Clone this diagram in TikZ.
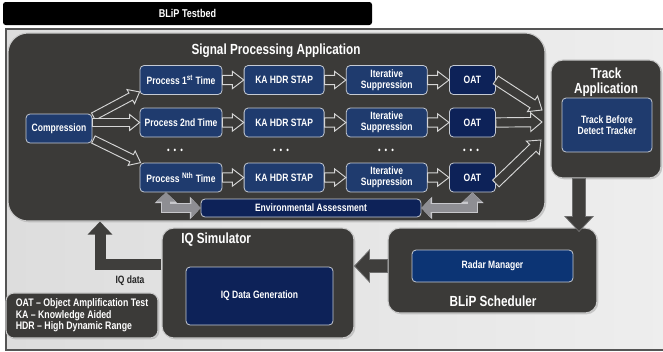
\documentclass[tikz,border=0pt]{standalone}
\usepackage{fontspec}
\setmainfont{Liberation Sans}[FakeStretch=0.8]
\usetikzlibrary{positioning, calc, arrows.meta, shadows}
\definecolor{PanelDark}{HTML}{3B3A38}
\definecolor{PanelEdge}{HTML}{C9C9C9}
\definecolor{BoxBlue}{HTML}{1F3B6E}
\definecolor{BoxNavy}{HTML}{0D2258}
\definecolor{RadarBlue}{HTML}{0C3474}
\definecolor{BoxEdge}{HTML}{C5CAD3}
\definecolor{ArrowEdge}{HTML}{D6D6D6}
\definecolor{BigGray}{HTML}{3F3E3C}
\definecolor{BigEdge}{HTML}{6E6E6E}
\definecolor{EnvGray}{HTML}{8E8E93}
\definecolor{EnvEdge}{HTML}{C8C8CC}
\definecolor{FrameL}{HTML}{DDDDDD}
\definecolor{FrameR}{HTML}{EEEEEE}
\definecolor{FrameEdge}{HTML}{555555}

% block arrow: style, from, to, half shaft, half head, head length
\newcommand{\blockarrow}[6]{%
  \coordinate (ba-s) at (#2);
  \coordinate (ba-e) at (#3);
  \coordinate (ba-h) at ($(ba-e)!#6!(ba-s)$);
  \draw[#1] ($(ba-s)!#4!90:(ba-e)$) -- ($(ba-h)!#4!90:(ba-e)$) -- ($(ba-h)!#5!90:(ba-e)$) -- (ba-e)
    -- ($(ba-h)!#5!-90:(ba-e)$) -- ($(ba-h)!#4!-90:(ba-e)$) -- ($(ba-s)!#4!-90:(ba-e)$) -- cycle;
}

\begin{document}
\begin{tikzpicture}[
    x=0.75pt, y=-0.75pt,
    font=\fontsize{8}{8.5}\selectfont\bfseries,
    panel/.style={rectangle, draw=PanelEdge, fill=PanelDark, rounded corners=9pt, line width=0.8pt, drop shadow={shadow xshift=1pt, shadow yshift=-1pt, opacity=0.35}},
    paneltitle/.style={text=white, font=\fontsize{11}{11}\selectfont\bfseries, align=center, inner sep=0pt},
    procbox/.style={rectangle, draw=BoxEdge, fill=BoxBlue, rounded corners=3pt, line width=0.6pt, text=white, align=center, minimum height=21.75pt, inner sep=1pt},
    oatbox/.style={procbox, fill=BoxNavy},
    hollow/.style={draw=ArrowEdge, fill=PanelDark, line width=0.7pt, line join=miter},
    bigarrow/.style={draw=BigEdge, fill=BigGray, line width=0.6pt, line join=miter},
    iqline/.style={draw=BigGray, line width=8.25pt, line join=miter, -{Triangle[width=18pt, length=9.75pt]}},
    envarrow/.style={draw=EnvGray, line width=6.5pt, line join=miter, {Triangle[width=14pt, length=7pt]}-{Triangle[width=14pt, length=7pt]},
      preaction={draw=EnvEdge, line width=8pt, {Triangle[width=16.5pt, length=8pt]}-{Triangle[width=16.5pt, length=8pt]}}}
  ]
    \useasboundingbox (0,0) rectangle (663,351);

    % Frame and title bar
    \draw[FrameEdge, line width=1pt, left color=FrameL, right color=FrameR] (6,29) rectangle (672,350);
    \node (testbed) [fill=black, rounded corners=2pt, minimum width=276.75pt, minimum height=17.25pt, text=white, font=\fontsize{8.5}{8.5}\selectfont\bfseries] at (187.5,13.5) {BLiP Testbed};

    % Panels
    \node (spa) [panel, rounded corners=15pt, minimum width=402.75pt, minimum height=141pt] at (276.5,127) {};
    \node (spatitle) [paneltitle] at (276,51) {Signal Processing Application};
    \node (trackapp) [panel, minimum width=82.5pt, minimum height=88.5pt] at (606,119) {};
    \node (tracktitle) [paneltitle] at (606,82) {Track\\Application};
    \node (iqsim) [panel, minimum width=144pt, minimum height=82.5pt] at (258,283) {};
    \node (iqtitle) [paneltitle, anchor=west] at (181,240) {IQ Simulator};
    \node (sched) [panel, minimum width=156.75pt, minimum height=63.75pt] at (492.5,270.5) {};
    \node (schedtitle) [paneltitle] at (493,301) {BLiP Scheduler};
    \node (legend) [panel, rounded corners=6pt, minimum width=114pt, minimum height=33.75pt, text=white, align=left, font=\fontsize{8.2}{8.6}\selectfont\bfseries] at (82,315.5) {OAT -- Object Amplification Test\\KA -- Knowledge Aided\\HDR -- High Dynamic Range};

    % Processing chain
    \node (comp) [procbox, minimum width=49.5pt] at (59,128.5) {Compression};

    \node (p1a) [procbox, minimum width=61.5pt] at (181,80) {Process 1\textsuperscript{st} Time};
    \node (p1b) [procbox, minimum width=60pt, right=16pt of p1a] {KA HDR STAP};
    \node (p1c) [procbox, minimum width=60.75pt, right=16pt of p1b] {Iterative\\Suppression};
    \node (p1d) [oatbox, minimum width=34.5pt, right=16pt of p1c] {OAT};

    \node (p2a) [procbox, minimum width=61.5pt] at (181,122.5) {Process 2nd Time};
    \node (p2b) [procbox, minimum width=60pt, right=16pt of p2a] {KA HDR STAP};
    \node (p2c) [procbox, minimum width=60.75pt, right=16pt of p2b] {Iterative\\Suppression};
    \node (p2d) [oatbox, minimum width=34.5pt, right=16pt of p2c] {OAT};

    \node (p3a) [procbox, minimum width=61.5pt] at (181,177.5) {Process \textsuperscript{Nth} Time};
    \node (p3b) [procbox, minimum width=60pt, right=16pt of p3a] {KA HDR STAP};
    \node (p3c) [procbox, minimum width=60.75pt, right=16pt of p3b] {Iterative\\Suppression};
    \node (p3d) [oatbox, minimum width=34.5pt, right=16pt of p3c] {OAT};

    \node (dots1) [text=white, font=\fontsize{7}{7}\selectfont] at (175,151) {\textbullet\hspace{3pt}\textbullet\hspace{3pt}\textbullet};
    \node (dots2) [text=white, font=\fontsize{7}{7}\selectfont] at (281,151) {\textbullet\hspace{3pt}\textbullet\hspace{3pt}\textbullet};
    \node (dots3) [text=white, font=\fontsize{7}{7}\selectfont] at (386,151) {\textbullet\hspace{3pt}\textbullet\hspace{3pt}\textbullet};
    \node (dots4) [text=white, font=\fontsize{7}{7}\selectfont] at (471,151) {\textbullet\hspace{3pt}\textbullet\hspace{3pt}\textbullet};

    \node (env) [oatbox, minimum width=165pt, minimum height=13.5pt] at (311,208) {Environmental Assessment};

    % Inner boxes of the other panels
    \node (tbd) [procbox, minimum width=67.5pt, minimum height=40.5pt] at (607,125) {Track Before\\Detect Tracker};
    \node (radar) [procbox, fill=RadarBlue, minimum width=120.75pt, minimum height=24pt] at (492.5,266) {Radar Manager};
    \node (iqgen) [oatbox, minimum width=110.25pt, minimum height=43.5pt] at (259.5,296) {IQ Data Generation};
    \node (iqlabel) [text=black!85, inner sep=0pt] at (130,281) {IQ data};

    % Arrows along the rows
    \blockarrow{hollow}{p1a.east}{p1b.west}{3.5pt}{6.5pt}{8.5pt}
    \blockarrow{hollow}{p1b.east}{p1c.west}{3.5pt}{6.5pt}{8.5pt}
    \blockarrow{hollow}{p1c.east}{p1d.west}{3.5pt}{6.5pt}{8.5pt}
    \blockarrow{hollow}{p2a.east}{p2b.west}{3.5pt}{6.5pt}{8.5pt}
    \blockarrow{hollow}{p2b.east}{p2c.west}{3.5pt}{6.5pt}{8.5pt}
    \blockarrow{hollow}{p2c.east}{p2d.west}{3.5pt}{6.5pt}{8.5pt}
    \blockarrow{hollow}{p3a.east}{p3b.west}{3.5pt}{6.5pt}{8.5pt}
    \blockarrow{hollow}{p3b.east}{p3c.west}{3.5pt}{6.5pt}{8.5pt}
    \blockarrow{hollow}{p3c.east}{p3d.west}{3.5pt}{6.5pt}{8.5pt}

    % Fan out and fan in
    \blockarrow{hollow}{$(comp.east)+(1,-12)$}{$(p1a.south west)+(0,-3)$}{3pt}{6pt}{7.5pt}
    \blockarrow{hollow}{comp.east |- p2a.west}{p2a.west}{3pt}{6pt}{7.5pt}
    \blockarrow{hollow}{$(comp.east)+(1,11)$}{$(p3a.north west)+(1,0)$}{3pt}{6pt}{7.5pt}
    \coordinate (fanin) at (542,122);
    \blockarrow{hollow}{p1d.east}{$(fanin)+(0,-12)$}{3.5pt}{7pt}{8.5pt}
    \blockarrow{hollow}{p2d.east}{fanin}{3.5pt}{7pt}{8.5pt}
    \blockarrow{hollow}{$(p3d.east)+(0,6)$}{$(fanin)+(-1,18)$}{3.5pt}{7pt}{8.5pt}

    % Environmental assessment links
    \draw[envarrow] (p3a.south -| 166,0) |- (env.west);
    \draw[envarrow] (p3d.south) |- (env.east);

    % Links between the applications
    \coordinate (drop) at (579,0);
    \blockarrow{bigarrow}{trackapp.south -| drop}{$(sched.north -| drop)+(0,4)$}{4.9pt}{10.5pt}{11.25pt}
    \blockarrow{bigarrow}{sched.west |- radar.west}{iqsim.east |- radar.west}{4.9pt}{12pt}{11.25pt}
    \coordinate (iqturn) at (100,264.5);
    \draw[iqline] (iqsim.west |- iqturn) -- (iqturn) -- (iqturn |- spa.south);
\end{tikzpicture}
\end{document}
